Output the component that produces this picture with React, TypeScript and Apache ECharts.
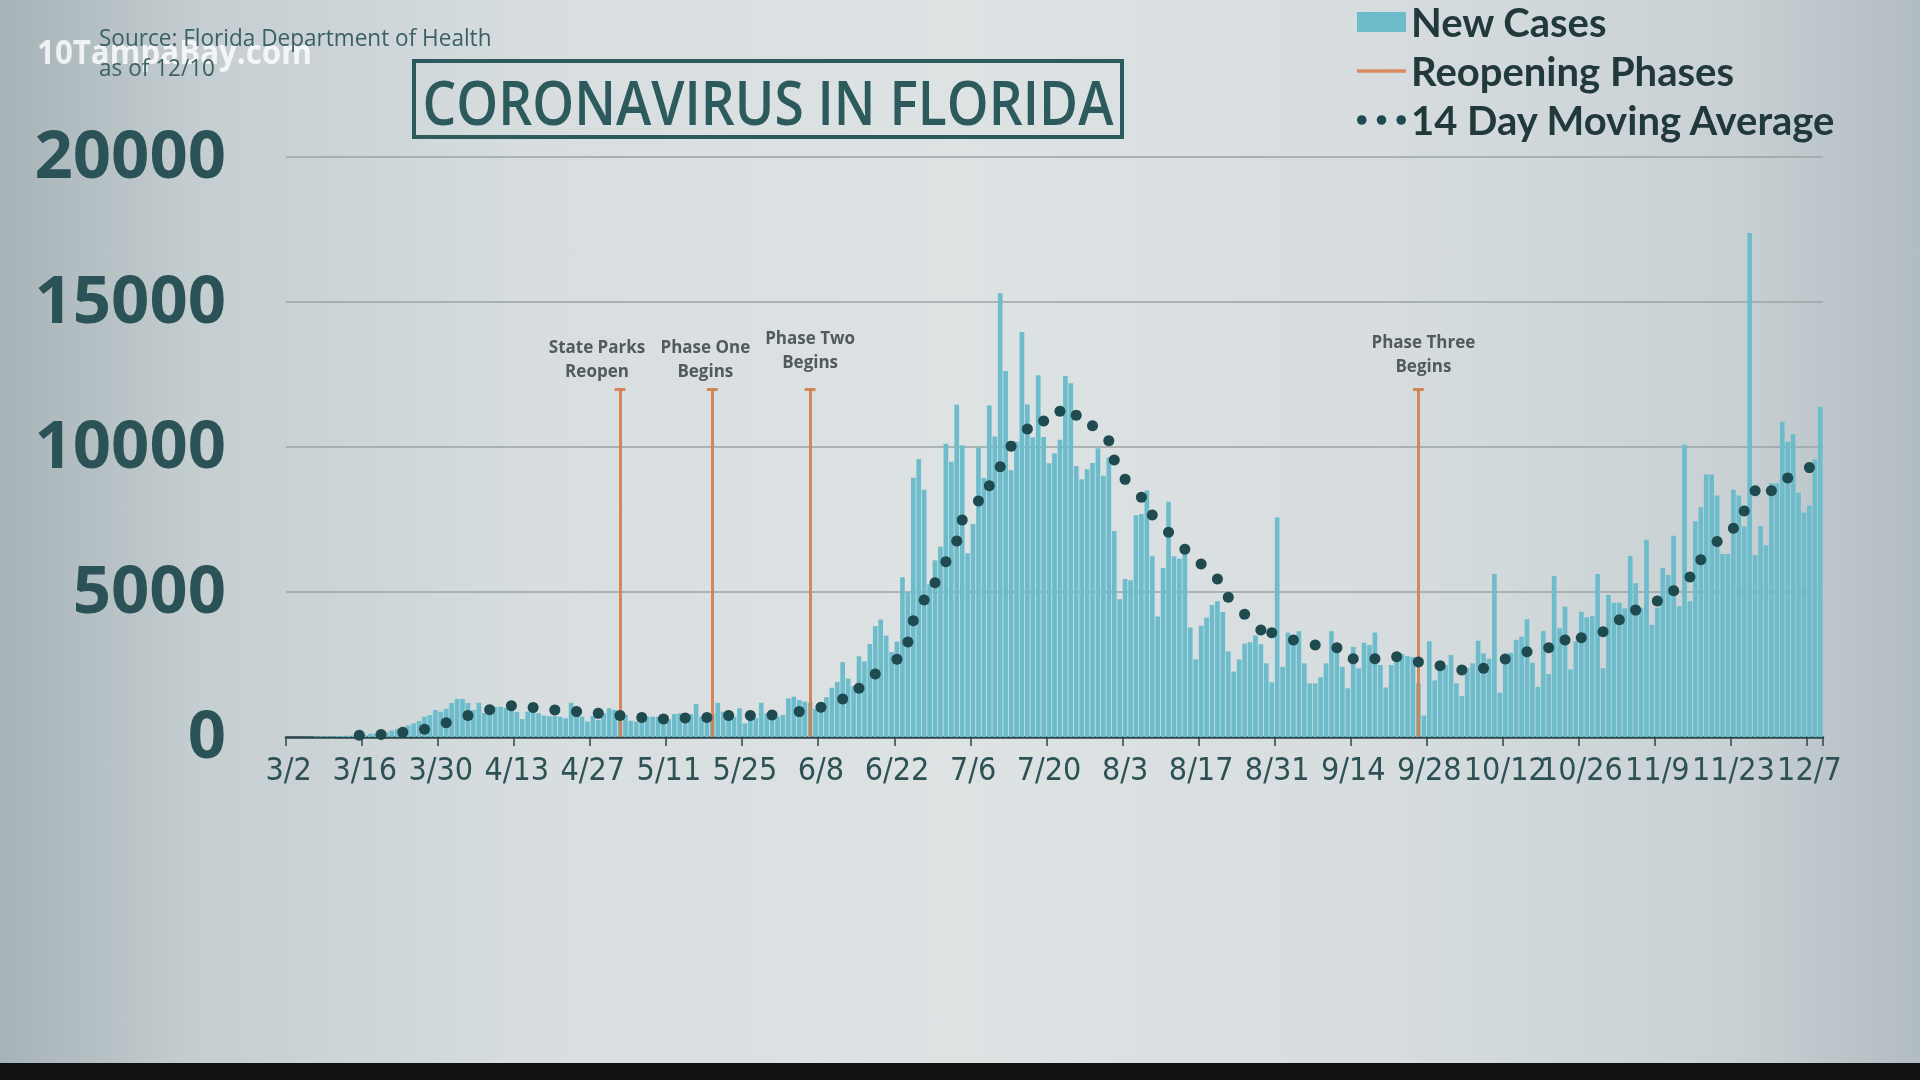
import React, { useEffect, useRef } from 'react';
import * as echarts from 'echarts';

// Daily new cases, one value per day starting 3/2
const NEW_CASES: number[] = [
  0, 0, 2, 3, 5, 20, 25, 25, 30, 35,
  40, 45, 50, 60, 70, 110, 120, 140, 160, 220,
  280, 250, 400, 470, 550, 700, 760, 930, 870, 970,
  1170, 1310, 1310, 1170, 930, 1180, 830, 1045, 1045, 1045,
  1000, 930, 870, 620, 870, 990, 820, 740, 720, 720,
  700, 645, 1180, 955, 700, 530, 725, 585, 815, 990,
  930, 800, 760, 560, 530, 760, 700, 700, 700, 700,
  610, 790, 815, 700, 790, 1140, 700, 700, 800, 1180,
  870, 790, 700, 990, 470, 585, 650, 1180, 815, 870,
  700, 760, 1330, 1390, 1275, 1220, 1180, 966, 1096, 1371,
  1698, 1902, 2581, 2016, 1758, 2783, 2610, 3207, 3822, 4049,
  3494, 2926, 3289, 5508, 5004, 8942, 9585, 8530, 5266, 6093,
  6563, 10109, 9488, 11458, 10059, 6336, 7347, 9989, 8935, 11433,
  10360, 15300, 12624, 9194, 10181, 13965, 11466, 10328, 12478, 10347,
  9440, 9785, 10249, 12444, 12199, 9344, 8892, 9230, 9446, 9956,
  9007, 9642, 7104, 4752, 5446, 5409, 7650, 7686, 8502, 6229,
  4155, 5831, 8109, 6236, 6148, 6352, 3779, 2678, 3838, 4115,
  4555, 4684, 4311, 2950, 2258, 2673, 3220, 3269, 3500, 3200,
  2540, 1885, 7569, 2420, 3600, 3370, 3650, 2540, 1850, 1850,
  2060, 2540, 3650, 3110, 2420, 1680, 3110, 2370, 3250, 3170,
  3600, 2480, 1710, 2480, 2830, 2860, 2790, 2760, 1850, 738,
  3300, 1950, 2300, 2480, 2830, 1850, 1410, 2380, 2540, 3320,
  2890, 2700, 5620, 1530, 2770, 2900, 3350, 3460, 4060, 2560,
  1730, 3650, 2170, 5550, 3750, 4490, 2330, 3300, 4320, 4130,
  4170, 5620, 2370, 4900, 4630, 4630, 4440, 6240, 5300, 4460,
  6800, 3870, 4460, 5830, 5590, 6940, 4510, 10080, 4680, 7440,
  7920, 9050, 9050, 8330, 6310, 6310, 8530, 8330, 7260, 17380,
  6280, 7280, 6610, 8750, 8750, 10870, 10180, 10440, 8420, 7740,
  7980, 9580, 11390,
];

// 14 day moving average, dots
const MA_DATES: string[] = [
  '3/15', '3/19', '3/23', '3/27', '3/31', '4/4', '4/8', '4/12', '4/16', '4/20',
  '4/24', '4/28', '5/2', '5/6', '5/10', '5/14', '5/18', '5/22', '5/26', '5/30',
  '6/4', '6/8', '6/12', '6/15', '6/18', '6/22', '6/24', '6/25', '6/27', '6/29',
  '7/1', '7/3', '7/4', '7/7', '7/9', '7/11', '7/13', '7/16', '7/19', '7/22',
  '7/25', '7/28', '7/31', '8/1', '8/3', '8/6', '8/8', '8/11', '8/14', '8/17',
  '8/20', '8/22', '8/25', '8/28', '8/30', '9/3', '9/7', '9/11', '9/14', '9/18',
  '9/22', '9/26', '9/30', '10/4', '10/8', '10/12', '10/16', '10/20', '10/23', '10/26',
  '10/30', '11/2', '11/5', '11/9', '11/12', '11/15', '11/17', '11/20', '11/23', '11/25',
  '11/27', '11/30', '12/3', '12/7',
];
const MA_VALUES: number[] = [
  60, 90, 160, 265, 490, 745, 940, 1080, 1020, 930,
  875, 815, 745, 675, 620, 655, 675, 745, 745, 760,
  875, 1023, 1310, 1678, 2172, 2678, 3276, 4011, 4724, 5321,
  6045, 6758, 7482, 8137, 8666, 9321, 10030, 10620, 10896, 11230,
  11092, 10735, 10218, 9551, 8884, 8264, 7655, 7057, 6471, 5965,
  5448, 4816, 4230, 3689, 3597, 3345, 3172, 3080, 2701, 2701,
  2770, 2586, 2455, 2310, 2368, 2690, 2942, 3080, 3345, 3425,
  3632, 4046, 4375, 4688, 5045, 5520, 6113, 6743, 7195, 7792,
  8492, 8492, 8933, 9289,
];

const PHASE_DATES: string[] = ['5/2', '5/19', '6/6', '9/26'];
const PHASE_LABELS: string[] = ['State Parks\nReopen', 'Phase One\nBegins', 'Phase Two\nBegins', 'Phase Three\nBegins'];
const PHASE_TOP = 12000;

const Y_MIN = 0;
const Y_MAX = 20000;
const Y_STEP = 5000;
const X_LABEL_EVERY = 14; // one tick label every two weeks

const TITLE = 'CORONAVIRUS IN FLORIDA';
const SOURCE = 'Source: Florida Department of Health';
const AS_OF = 'as of 12/10';
const WATERMARK = '10TampaBay.com';

const MONTH_LENGTHS: Record<number, number> = { 3: 31, 4: 30, 5: 31, 6: 30, 7: 31, 8: 31, 9: 30, 10: 31, 11: 30, 12: 31 };

function buildDates(count: number): string[] {
  const out: string[] = [];
  let m = 3;
  let d = 2;
  for (let i = 0; i < count; i++) {
    out.push(`${m}/${d}`);
    d++;
    if (d > MONTH_LENGTHS[m]) {
      d = 1;
      m++;
    }
  }
  return out;
}

const DATES = buildDates(NEW_CASES.length);

const TEAL_BAR = '#6dbccb';
const ORANGE = '#d27f4d';
const DOT = '#1f4a50';
const DARK_TEXT = '#2b5357';

// per-label padding used to nudge the phase captions as in the picture [top, right, bottom, left]
const PHASE_LABEL_PADDING: number[][] = [
  [0, 46, 0, 0],
  [0, 14, 0, 0],
  [0, 0, 9, 0],
  [0, 0, 5, 10],
];

const DOTS_ICON =
  'path://M0,4.5a4.5,4.5 0 1,0 9,0a4.5,4.5 0 1,0 -9,0z M18.5,4.5a4.5,4.5 0 1,0 9,0a4.5,4.5 0 1,0 -9,0z M37,4.5a4.5,4.5 0 1,0 9,0a4.5,4.5 0 1,0 -9,0z';
const LINE_ICON = 'path://M0,0H50V3.6H0Z';

export default function App() {
  const ref = useRef<HTMLDivElement>(null);

  useEffect(() => {
    if (!ref.current) return;
    const chart = echarts.init(ref.current, null, { renderer: 'svg' });

    const phaseLines: any[] = [];
    PHASE_DATES.forEach((d, i) => {
      phaseLines.push([
        { coord: [d, 0], label: { show: true, formatter: PHASE_LABELS[i], padding: PHASE_LABEL_PADDING[i] } },
        { coord: [d, PHASE_TOP] },
      ]);
      const idx = DATES.indexOf(d);
      phaseLines.push([
        { coord: [DATES[idx - 1], PHASE_TOP], label: { show: false } },
        { coord: [DATES[idx + 1], PHASE_TOP] },
      ]);
    });

    const everyTwoWeeks = (index: number) => index % X_LABEL_EVERY === 0;

    const option: any = {
      animation: false,
      graphic: {
        elements: [
          {
            type: 'rect',
            silent: true,
            z: -100,
            shape: { x: 0, y: 0, width: 1920, height: 1080 },
            style: {
              fill: new echarts.graphic.LinearGradient(0, 0, 1, 0, [
                { offset: 0, color: '#a6b3b7' },
                { offset: 0.1, color: '#c4cdd0' },
                { offset: 0.28, color: '#d8dee0' },
                { offset: 0.5, color: '#dde2e3' },
                { offset: 0.72, color: '#d7dddf' },
                { offset: 0.9, color: '#c9d1d4' },
                { offset: 1, color: '#b2bdc1' },
              ]),
            },
          },
          {
            type: 'text',
            silent: true,
            z: 50,
            x: 37,
            y: 51,
            scaleX: 0.92,
            style: {
              text: WATERMARK,
              fontFamily: 'Open Sans',
              fontWeight: 'bold',
              fontSize: 34,
              fill: 'rgba(255,255,255,0.8)',
              align: 'left',
              verticalAlign: 'middle',
            },
          },
          {
            type: 'text',
            silent: true,
            z: 60,
            x: 99,
            y: 37,
            scaleX: 0.94,
            style: {
              text: SOURCE,
              fontFamily: 'Open Sans',
              fontSize: 24,
              fill: '#3b6165',
              align: 'left',
              verticalAlign: 'middle',
            },
          },
          {
            type: 'text',
            silent: true,
            z: 60,
            x: 99,
            y: 67,
            scaleX: 0.94,
            style: {
              text: AS_OF,
              fontFamily: 'Open Sans',
              fontSize: 24,
              fill: '#3b6165',
              align: 'left',
              verticalAlign: 'middle',
            },
          },
          {
            type: 'rect',
            silent: true,
            z: 60,
            shape: { x: 414, y: 61, width: 708, height: 76 },
            style: { fill: 'none', stroke: '#2c5a5d', lineWidth: 4 },
          },
          {
            type: 'text',
            silent: true,
            z: 60,
            x: 768,
            y: 101,
            scaleX: 0.86,
            style: {
              text: TITLE,
              fontFamily: 'Open Sans',
              fontWeight: 600,
              fontSize: 62,
              fill: '#2c5a5d',
              align: 'center',
              verticalAlign: 'middle',
            },
          },
          {
            type: 'rect',
            silent: true,
            z: 100,
            shape: { x: 0, y: 1063, width: 1920, height: 17 },
            style: { fill: '#101112' },
          },
        ],
      },
      grid: { left: 286, right: 97, top: 157, bottom: 343, containLabel: false, outerBoundsMode: 'none' },
      legend: {
        orient: 'vertical',
        left: 1357,
        top: 2,
        padding: 0,
        itemWidth: 49,
        itemHeight: 20,
        itemGap: 9,
        selectedMode: false,
        textStyle: { fontFamily: 'Lato', fontWeight: 'bold', fontSize: 40, lineHeight: 40, color: '#22393c' },
        data: [
          { name: 'New Cases', icon: 'rect', itemStyle: { color: TEAL_BAR, borderWidth: 0 } },
          { name: 'Reopening Phases', icon: LINE_ICON, itemStyle: { color: '#d98c5f', borderWidth: 0 } },
          { name: '14 Day Moving Average', icon: DOTS_ICON, itemStyle: { color: DOT, borderWidth: 0 } },
        ],
      },
      xAxis: {
        type: 'category',
        data: DATES,
        boundaryGap: true,
        axisLine: { lineStyle: { color: '#2b4649', width: 2.5 } },
        axisTick: { show: true, interval: everyTwoWeeks, alignWithLabel: false, length: 9, lineStyle: { color: '#2b4649', width: 1.5 } },
        axisLabel: {
          interval: everyTwoWeeks,
          showMaxLabel: true,
          margin: 16,
          fontFamily: "'Liberation Sans Narrow', 'DejaVu Sans Condensed', 'Roboto', sans-serif",
          fontSize: 32,
          color: '#2d5155',
        },
        splitLine: { show: false },
      },
      yAxis: {
        type: 'value',
        min: Y_MIN,
        max: Y_MAX,
        interval: Y_STEP,
        axisLine: { show: false },
        axisTick: { show: false },
        axisLabel: {
          margin: 60,
          fontFamily: 'Open Sans',
          fontWeight: 'bold',
          fontSize: 67,
          verticalAlign: 'bottom',
          lineHeight: 10,
          color: DARK_TEXT,
          formatter: (v: number) => String(v),
        },
        splitLine: { lineStyle: { color: '#9ba3a6', width: 1.6 } },
      },
      series: [
        {
          name: 'New Cases',
          type: 'bar',
          data: NEW_CASES,
          barCategoryGap: '14%',
          itemStyle: { color: TEAL_BAR },
          markLine: {
            silent: true,
            symbol: ['none', 'none'],
            lineStyle: { color: ORANGE, width: 3, type: 'solid', opacity: 0.92 },
            label: {
              show: true,
              position: 'end',
              distance: 7,
              fontFamily: 'Open Sans',
              fontWeight: 'bold',
              fontSize: 17,
              lineHeight: 24,
              color: '#474e50',
            },
            emphasis: { disabled: true },
            data: phaseLines,
          },
        },
        {
          name: 'Reopening Phases',
          type: 'line',
          data: [],
          itemStyle: { color: ORANGE },
          lineStyle: { color: ORANGE },
        },
        {
          name: '14 Day Moving Average',
          type: 'scatter',
          z: 5,
          symbolSize: 11,
          itemStyle: { color: DOT, opacity: 1 },
          data: MA_DATES.map((d, i) => [d, MA_VALUES[i]]),
        },
      ],
    };

    chart.setOption(option);
    return () => chart.dispose();
  }, []);

  return <div ref={ref} style={{ position: 'fixed', left: 0, top: 0, width: 1920, height: 1080 }} />;
}
